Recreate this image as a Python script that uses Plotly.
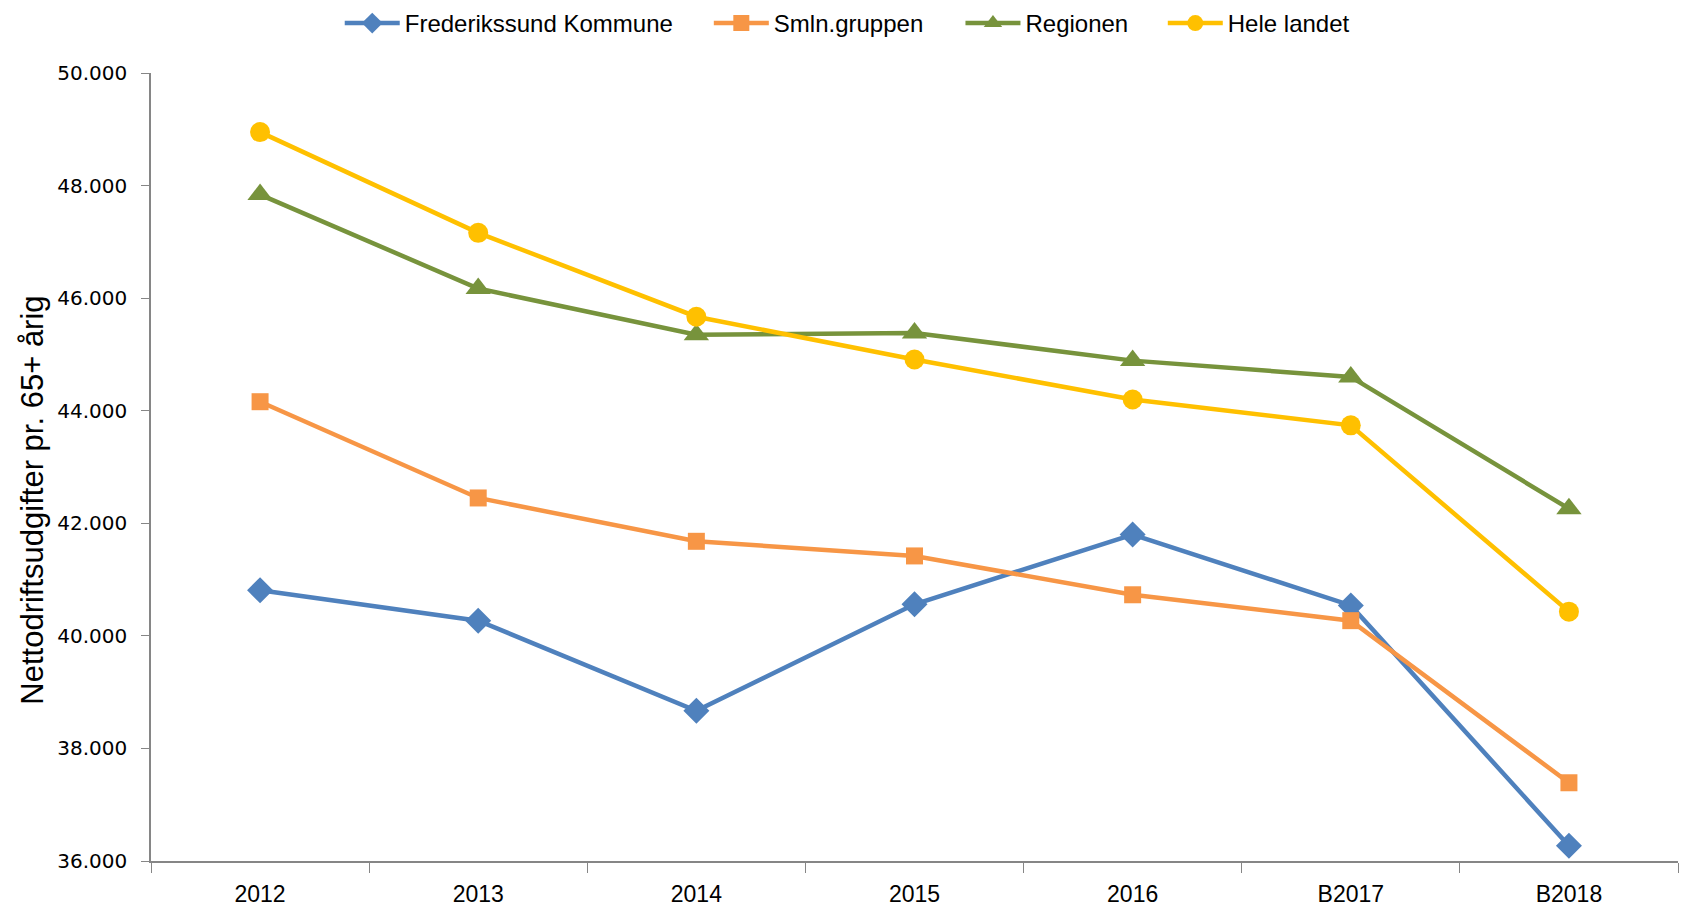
import plotly.graph_objects as go

categories = ["2012", "2013", "2014", "2015", "2016", "B2017", "B2018"]
frederikssund = [40810, 40270, 38670, 40560, 41800, 40540, 36270]
smln = [44160, 42450, 41680, 41420, 40730, 40270, 37390]
regionen = [47840, 46170, 45350, 45380, 44890, 44600, 42260]
hele_landet = [48950, 47160, 45670, 44910, 44200, 43740, 40430]

series = [
    ("Frederikssund Kommune", frederikssund, "#4F81BD", "diamond", 20),
    ("Smln.gruppen", smln, "#F79646", "square", 17),
    ("Regionen", regionen, "#77933C", "triangle-up", 22),
    ("Hele landet", hele_landet, "#FFC000", "circle", 20),
]
legend_x = [0.1236, 0.3653, 0.5301, 0.6626]

fig = go.Figure()
legend_names = ["legend", "legend2", "legend3", "legend4"]
for i, (name, vals, color, sym, size) in enumerate(series):
    fig.add_trace(go.Scatter(
        x=categories, y=vals, name=name, mode="lines+markers",
        line=dict(color=color, width=4.5),
        marker=dict(symbol=sym, size=size, color=color),
        legend=legend_names[i],
    ))

legend_common = dict(orientation="h", xanchor="left", y=0.983, yanchor="middle",
                     yref="container", bgcolor="rgba(0,0,0,0)",
                     font=dict(family="Liberation Sans, Arial, sans-serif", size=24, color="black"),
                     itemwidth=55)
layout_legends = {}
for i, ln in enumerate(legend_names):
    layout_legends[ln] = dict(legend_common, x=legend_x[i])

fig.update_layout(
    width=1687, height=911,
    paper_bgcolor="white", plot_bgcolor="white",
    margin=dict(l=143, r=17, t=65, b=56),
    showlegend=True,
    font=dict(family="DejaVu Sans", color="black"),
    annotations=[dict(
        text="Nettodriftsudgifter pr. 65+ årig", textangle=-90,
        xref="paper", yref="paper", x=-0.0777, y=0.4577,
        xanchor="center", yanchor="middle", showarrow=False,
        font=dict(family="Liberation Sans, Arial, sans-serif", size=31, color="black"),
    )],
    **layout_legends,
)

fig.update_xaxes(
    type="category", range=[-0.5, 6.5],
    showline=True, linecolor="#868686", linewidth=1.5,
    ticks="outside", tickson="boundaries", ticklen=10, tickcolor="#868686",
    showgrid=False, zeroline=False,
    ticklabelstandoff=12,
    tickfont=dict(family="Liberation Sans, Arial, sans-serif", size=23, color="black"),
)
fig.update_yaxes(
    range=[36000, 50000], tickvals=[36000, 38000, 40000, 42000, 44000, 46000, 48000, 50000],
    ticktext=["36.000", "38.000", "40.000", "42.000", "44.000", "46.000", "48.000", "50.000"],
    showline=True, linecolor="#868686", linewidth=1.5,
    ticks="outside", ticklen=8, tickcolor="#868686",
    showgrid=False, zeroline=False,
    ticklabelstandoff=10,
    tickfont=dict(family="DejaVu Sans", size=20, color="black"),
)

fig.write_html("out.html")
